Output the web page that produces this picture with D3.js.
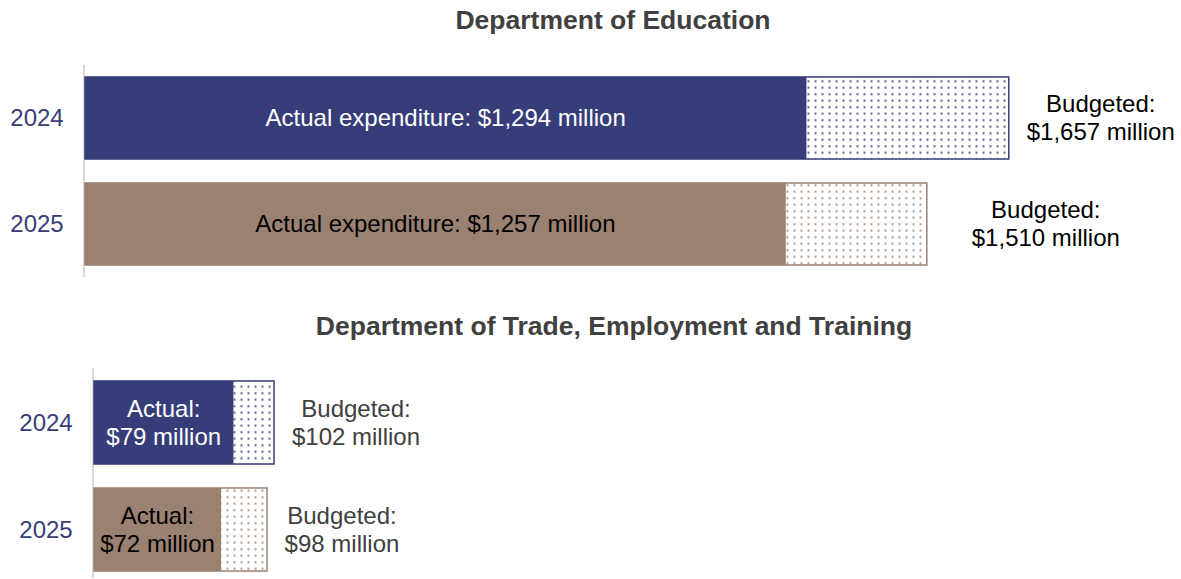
<!DOCTYPE html>
<html>
<head>
<meta charset="utf-8">
<script src="https://cdn.jsdelivr.net/npm/d3@7/dist/d3.min.js"></script>
<style>
  html, body { margin: 0; padding: 0; background: #fff; }
  svg { display: block; font-family: "Liberation Sans", Arial, sans-serif; }
</style>
</head>
<body>
<svg id="chart" width="1181" height="579"></svg>
<script>
// Spending by department: actual expenditure vs. budgeted amount ($ million)
const years = ["2024", "2025"];

const eduActual = [1294, 1257];
const eduBudget = [1657, 1510];

const dtetActual = [79, 72];
const dtetBudget = [102, 98];

const panelTitles = ["Department of Education", "Department of Trade, Employment and Training"];

const yearColors = { "2024": "#373d79", "2025": "#9a8171" };
const fmt = d3.format(",");

const svg = d3.select("#chart");

// Dotted fills for the unspent part of each budget
const defs = svg.append("defs");
years.forEach(y => {
  const p = defs.append("pattern")
    .attr("id", "dots" + y)
    .attr("patternUnits", "userSpaceOnUse")
    .attr("width", 7).attr("height", 6.5);
  p.append("rect").attr("width", 7).attr("height", 6.5).attr("fill", "#fff");
  p.append("rect").attr("x", 2.5).attr("y", 2.2).attr("width", 2).attr("height", 2)
    .attr("fill", yearColors[y]).attr("opacity", 0.85);
});

function drawPanel(cfg) {
  const g = svg.append("g");
  const x = d3.scaleLinear().domain(cfg.domain).range(cfg.xRange);
  const y = d3.scaleBand().domain(years).range(cfg.yRange).paddingInner(cfg.padIn).paddingOuter(cfg.padOut);

  g.append("text")
    .attr("x", cfg.titleX).attr("y", cfg.titleY)
    .attr("text-anchor", "middle")
    .attr("font-size", 26.5).attr("font-weight", "bold").attr("fill", "#404040")
    .text(cfg.title);

  // category axis
  g.append("line")
    .attr("x1", x(0) - 1).attr("x2", x(0) - 1)
    .attr("y1", cfg.axisY[0]).attr("y2", cfg.axisY[1])
    .attr("stroke", "#d9d9d9").attr("stroke-width", 2);

  const rows = years.map((yr, i) => ({ yr, i, actual: cfg.actual[i], budget: cfg.budget[i] }));

  // budget outline with dotted fill
  g.selectAll("rect.budget").data(rows).join("rect")
    .attr("class", "budget")
    .attr("x", d => x(0)).attr("y", d => y(d.yr))
    .attr("width", d => x(d.budget) - x(0)).attr("height", y.bandwidth())
    .attr("fill", d => `url(#dots${d.yr})`)
    .attr("stroke", d => yearColors[d.yr]).attr("stroke-width", 1.5);

  // actual expenditure
  g.selectAll("rect.actual").data(rows).join("rect")
    .attr("class", "actual")
    .attr("x", d => x(0)).attr("y", d => y(d.yr))
    .attr("width", d => x(d.actual) - x(0)).attr("height", y.bandwidth())
    .attr("fill", d => yearColors[d.yr]);

  // year labels
  g.selectAll("text.year").data(rows).join("text")
    .attr("class", "year")
    .attr("x", cfg.yearX).attr("y", d => y(d.yr) + y.bandwidth() / 2)
    .attr("dy", "0.35em").attr("text-anchor", "middle")
    .attr("font-size", 24).attr("fill", "#373d79")
    .text(d => d.yr);

  // labels inside the actual bars
  const inner = g.selectAll("text.inner").data(rows).join("text")
    .attr("class", "inner")
    .attr("y", d => y(d.yr) + y.bandwidth() / 2)
    .attr("text-anchor", "middle")
    .attr("font-size", 24)
    .attr("fill", d => d.yr === "2024" ? "#ffffff" : "#000000");
  inner.each(function (d) {
    const t = d3.select(this);
    const lines = cfg.innerText(d);
    lines.forEach((ln, k) => {
      t.append("tspan")
        .attr("x", (x(0) + x(d.actual)) / 2)
        .attr("dy", k === 0 ? (0.35 - (lines.length - 1) * 0.58) + "em" : "1.16em")
        .text(ln);
    });
  });

  // budgeted labels to the right of each bar
  const outer = g.selectAll("text.outer").data(rows).join("text")
    .attr("class", "outer")
    .attr("y", d => y(d.yr) + y.bandwidth() / 2)
    .attr("text-anchor", "middle")
    .attr("font-size", 24)
    .attr("fill", cfg.outerColor);
  outer.each(function (d) {
    const t = d3.select(this);
    const cx = x(d.budget) + cfg.outerOffset[d.i];
    ["Budgeted:", `$${fmt(d.budget)} million`].forEach((ln, k) => {
      t.append("tspan").attr("x", cx)
        .attr("dy", k === 0 ? "-0.23em" : "1.16em")
        .text(ln);
    });
  });
}

drawPanel({
  title: panelTitles[0], titleX: 613, titleY: 29,
  actual: eduActual, budget: eduBudget,
  domain: [0, 2000], xRange: [85, 85 + 1115],
  yRange: [65, 277], padIn: 0.226, padOut: 0.113,
  axisY: [65, 277],
  yearX: 37,
  innerText: d => [`Actual expenditure: $${fmt(d.actual)} million`],
  outerColor: "#000000",
  outerOffset: [92, 119]
});

drawPanel({
  title: panelTitles[1], titleX: 614, titleY: 335,
  actual: dtetActual, budget: dtetBudget,
  domain: [0, 600], xRange: [94, 94 + 1059],
  yRange: [369, 583], padIn: 0.224, padOut: 0.112,
  axisY: [368, 578],
  yearX: 46,
  innerText: d => ["Actual:", `$${fmt(d.actual)} million`],
  outerColor: "#404040",
  outerOffset: [82, 75]
});
</script>
</body>
</html>
